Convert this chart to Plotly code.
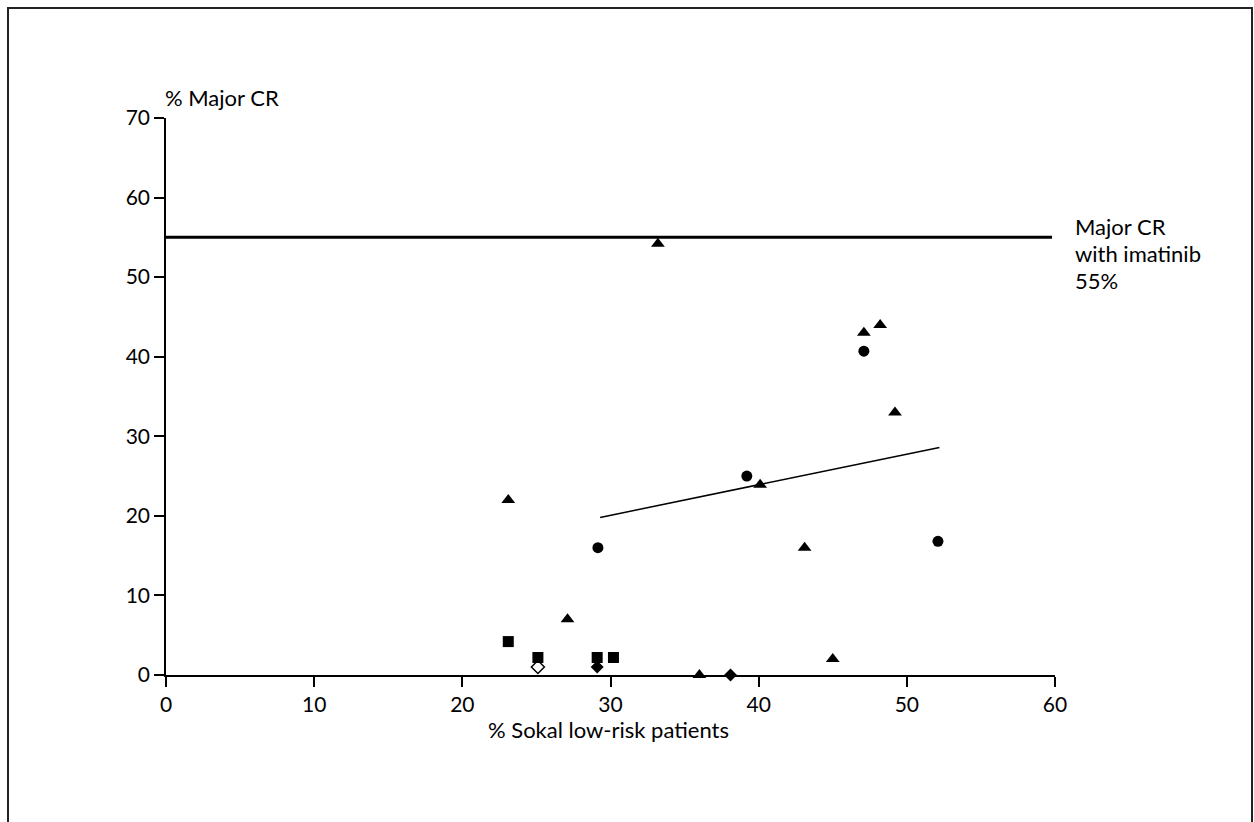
import plotly.graph_objects as go

# Data
tri_x = [33.2, 23.1, 27.1, 36.0, 45.0, 40.1, 43.1, 47.1, 48.2, 49.2]
tri_y = [54.2, 22.0, 7.0, 0.0, 2.0, 23.9, 16.0, 43.0, 44.0, 33.0]
circ_x = [29.15, 39.2, 47.1, 52.1]
circ_y = [16.0, 25.0, 40.7, 16.8]
sq_x = [23.1, 25.1, 29.1, 30.2]
sq_y = [4.2, 2.2, 2.2, 2.2]
dia_x = [29.1, 38.1]
dia_y = [1.0, 0.0]
odia_x = [25.1]
odia_y = [1.0]
trend_x = [29.3, 52.2]
trend_y = [19.8, 28.6]
imatinib_x = [0, 59.8]
imatinib_y = [55, 55]
x_ticks = [0, 10, 20, 30, 40, 50, 60]
y_ticks = [0, 10, 20, 30, 40, 50, 60, 70]

FONT = "Lato, 'Open Sans', sans-serif"
FS = 21
AFS = 22

fig = go.Figure()
fig.add_trace(go.Scatter(x=imatinib_x, y=imatinib_y, mode="lines",
                         line=dict(color="black", width=3), cliponaxis=False))
fig.add_trace(go.Scatter(x=trend_x, y=trend_y, mode="lines",
                         line=dict(color="black", width=1.5), cliponaxis=False))
fig.add_trace(go.Scatter(x=tri_x, y=tri_y, mode="markers", cliponaxis=False,
                         marker=dict(symbol="triangle-up", size=12, color="black")))
fig.add_trace(go.Scatter(x=circ_x, y=circ_y, mode="markers", cliponaxis=False,
                         marker=dict(symbol="circle", size=11, color="black")))
fig.add_trace(go.Scatter(x=sq_x, y=sq_y, mode="markers", cliponaxis=False,
                         marker=dict(symbol="square", size=11, color="black")))
fig.add_trace(go.Scatter(x=dia_x, y=dia_y, mode="markers", cliponaxis=False,
                         marker=dict(symbol="diamond", size=10, color="black")))
fig.add_trace(go.Scatter(x=odia_x, y=odia_y, mode="markers", cliponaxis=False,
                         marker=dict(symbol="diamond-open", size=10, color="black",
                                     line=dict(width=1.5))))

L, R, T, B = 166, 199, 118, 147
W, H = 1254, 822
pw, ph = W - L - R, H - T - B

def px(p):
    return (p - L) / pw

def py(p):
    return (H - B - p) / ph

fig.update_layout(
    width=W, height=H,
    margin=dict(l=L, r=R, t=T, b=B),
    paper_bgcolor="white", plot_bgcolor="white",
    showlegend=False,
    font=dict(family=FONT, size=FS, color="black"),
    xaxis=dict(range=[0, 60], tickvals=x_ticks, showgrid=False, zeroline=False,
               showline=True, linecolor="black", linewidth=1.5,
               ticks="outside", ticklen=10, tickwidth=1.5, tickcolor="black",
               tickfont=dict(size=FS, family=FONT)),
    yaxis=dict(range=[0, 70], tickvals=y_ticks, showgrid=False, zeroline=False,
               showline=True, linecolor="black", linewidth=1.5,
               ticks="outside", ticklen=10, tickwidth=1.5, tickcolor="black",
               tickfont=dict(size=FS, family=FONT)),
    shapes=[dict(type="rect", xref="paper", yref="paper",
                 x0=px(8), x1=px(1252), y0=py(8), y1=py(840),
                 line=dict(color="#222222", width=2))],
    annotations=[
        dict(text="% Major CR", xref="paper", yref="paper", x=px(163), y=py(97),
             xanchor="left", yanchor="middle", showarrow=False, font=dict(size=AFS)),
        dict(text="% Sokal low-risk patients", xref="paper", yref="paper",
             x=px(608), y=py(729), xanchor="center", yanchor="middle",
             showarrow=False, font=dict(size=AFS)),
        dict(text="Major CR", xref="paper", yref="paper", x=px(1073), y=py(226),
             xanchor="left", yanchor="middle", showarrow=False, font=dict(size=AFS)),
        dict(text="with imatinib", xref="paper", yref="paper", x=px(1073), y=py(253),
             xanchor="left", yanchor="middle", showarrow=False, font=dict(size=AFS)),
        dict(text="55%", xref="paper", yref="paper", x=px(1073), y=py(280),
             xanchor="left", yanchor="middle", showarrow=False, font=dict(size=AFS)),
    ],
)

fig.write_html("out.html")
